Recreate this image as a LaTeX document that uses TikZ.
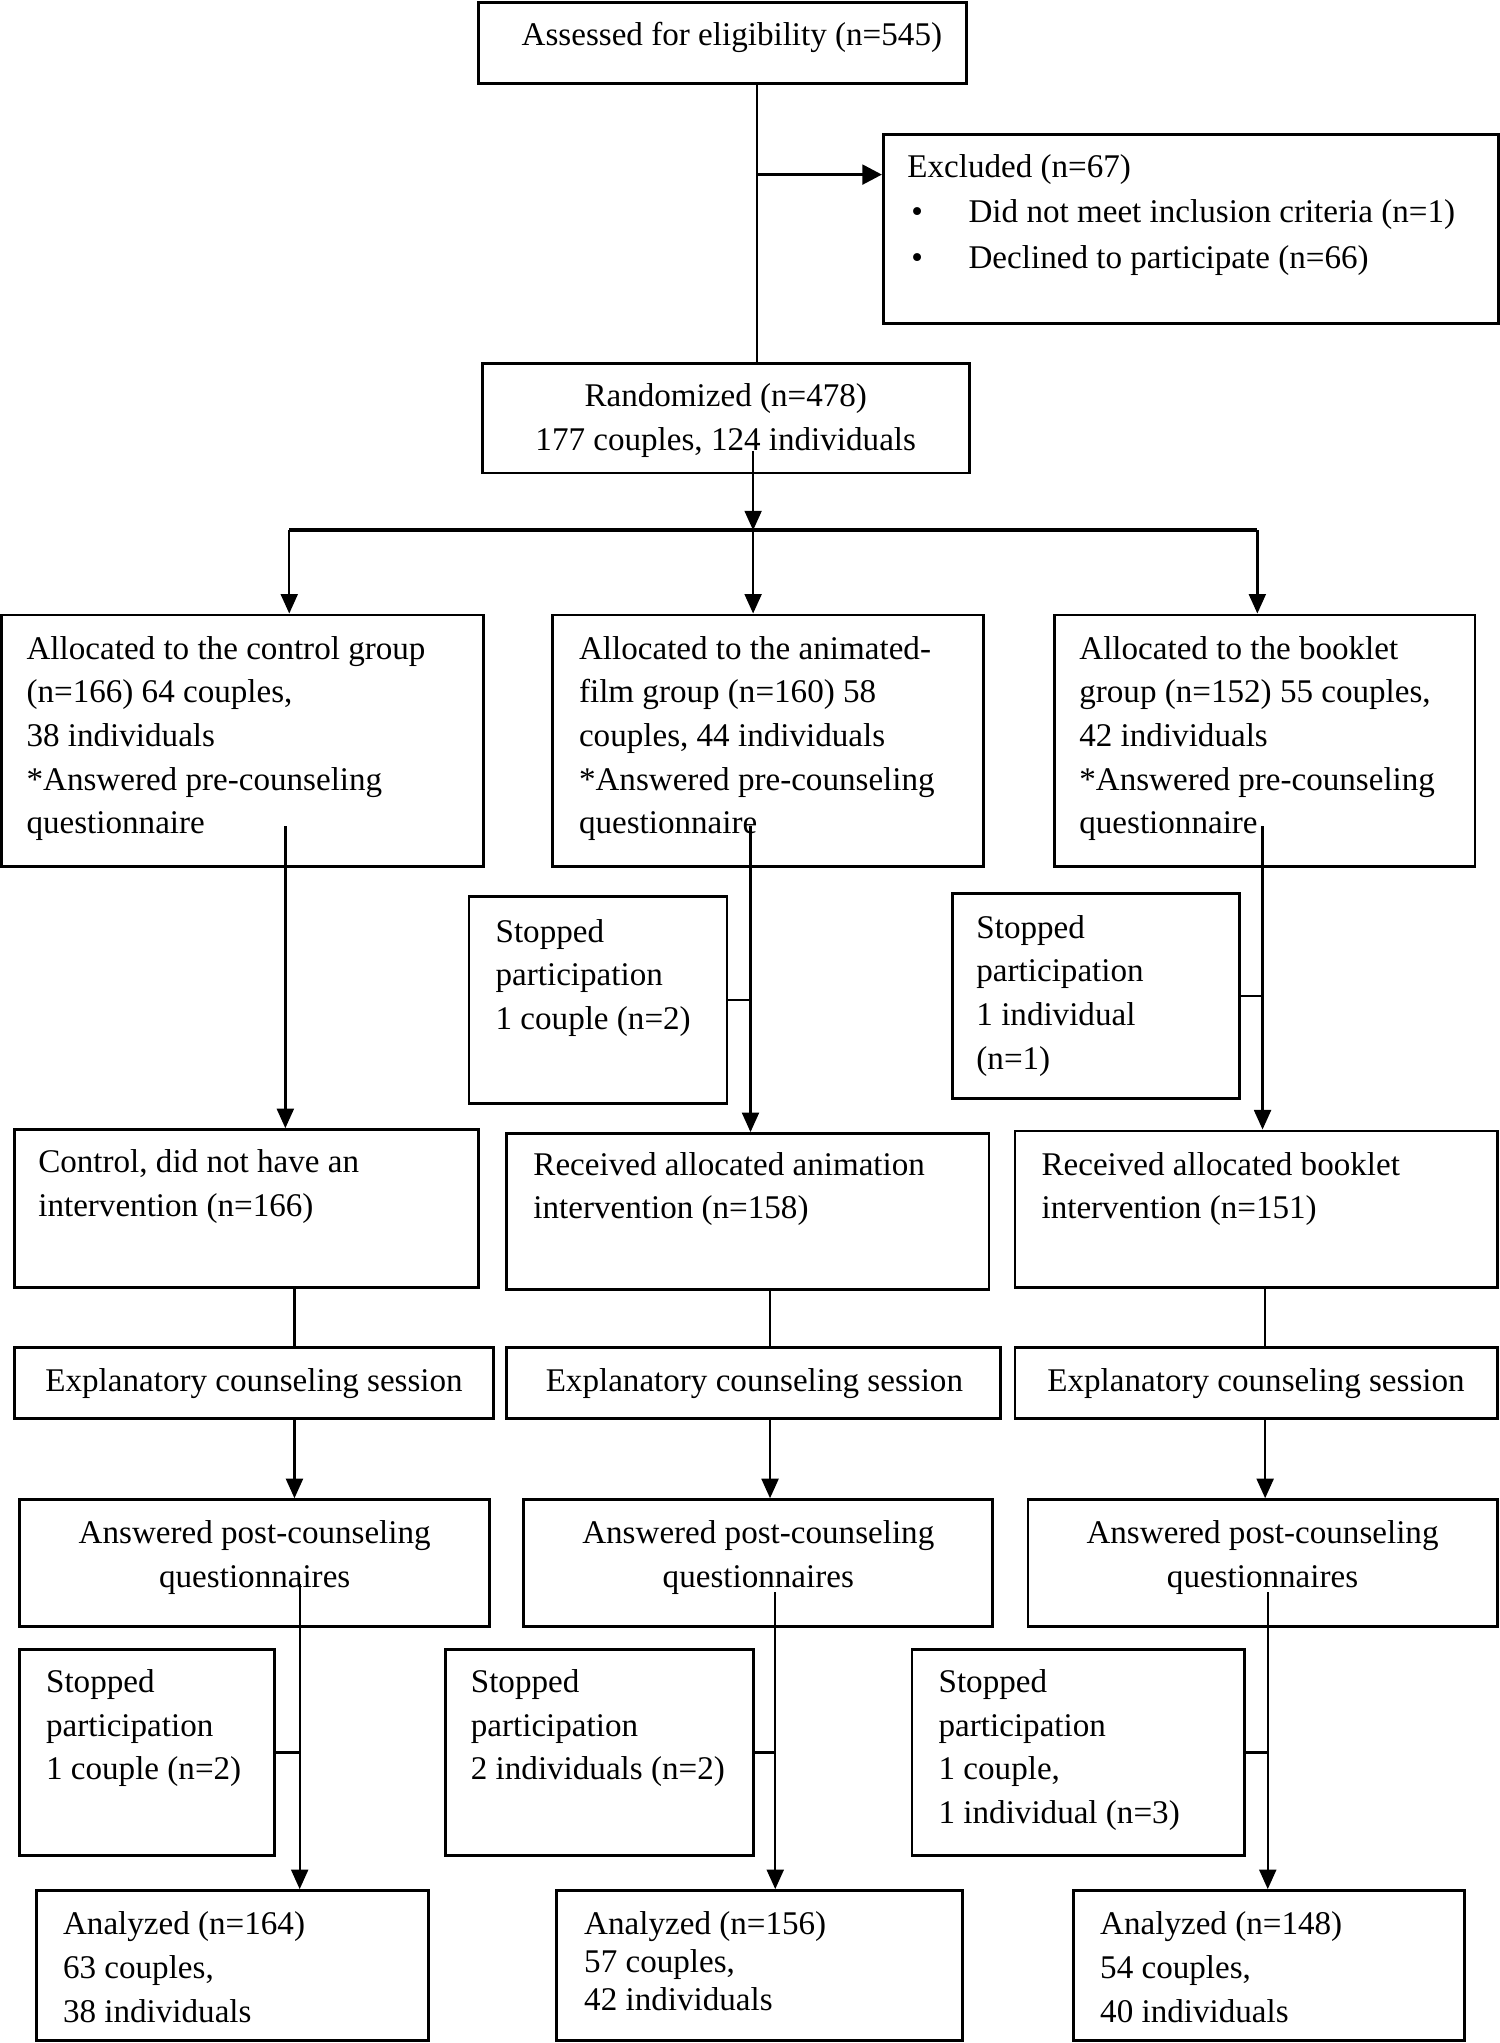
\documentclass[tikz,border=0pt]{standalone}
\usepackage{fontspec}
\setmainfont{Liberation Serif}
\usetikzlibrary{arrows.meta,fit}
\newcommand\fs{\fontsize{12.7}{16.75}\selectfont}
\newcommand\ml[1]{\begin{tabular}[t]{@{}l@{}}#1\end{tabular}}
\newcommand\mc[1]{\begin{tabular}[t]{@{}c@{}}#1\end{tabular}}
\begin{document}
\begin{tikzpicture}[x=0.5pt,y=-0.5pt,
  box/.style={draw, line width=1.1pt, inner sep=0pt},
  txt/.style={anchor=base west, inner sep=0pt, font=\fs},
  ctxt/.style={anchor=base, inner sep=0pt, font=\fs},
  link/.style={line width=0.9pt},
  arr/.style={link, -{Triangle[length=7.5pt,width=6.5pt]}},
  bigarr/.style={line width=1.3pt, -{Triangle[length=7.5pt,width=7.5pt]}},
  branch/.style={line width=1.6pt}]
\useasboundingbox (0,0) rectangle (1151,1568);
% boxes
\node[box, fit={(367,2) (742,64)}] (ass) {};
\node[box, fit={(678,103) (1150,248)}] (exc) {};
\node[box, fit={(370,279) (744,363)}] (rand) {};
\node[box, fit={(1,472) (371,665)}] (a1) {};
\node[box, fit={(424,472) (755,665)}] (a2) {};
\node[box, fit={(809,472) (1132,665)}] (a3) {};
\node[box, fit={(360,688) (558,847)}] (st2) {};
\node[box, fit={(731,686) (951,843)}] (st3) {};
\node[box, fit={(11,867) (367,988)}] (i1) {};
\node[box, fit={(389,870) (759,990)}] (i2) {};
\node[box, fit={(779,868) (1149,988)}] (i3) {};
\node[box, fit={(11,1034) (379,1089)}] (e1) {};
\node[box, fit={(389,1034) (768,1089)}] (e2) {};
\node[box, fit={(779,1034) (1149,1089)}] (e3) {};
\node[box, fit={(15,1151) (376,1248)}] (q1) {};
\node[box, fit={(402,1151) (762,1248)}] (q2) {};
\node[box, fit={(789,1151) (1149,1248)}] (q3) {};
\node[box, fit={(15,1266) (211,1424)}] (sp1) {};
\node[box, fit={(342,1266) (578,1424)}] (sp2) {};
\node[box, fit={(700,1266) (955,1424)}] (sp3) {};
\node[box, fit={(28,1451) (329,1566)}] (an1) {};
\node[box, fit={(427,1451) (739,1566)}] (an2) {};
\node[box, fit={(824,1451) (1124,1566)}] (an3) {};
% texts
\node[txt] (tass) at (400,35) {Assessed for eligibility (n=545)};
\node[txt, font=\fontsize{12.7}{17.5}\selectfont] (texc) at (696,136) {\ml{Excluded (n=67)\\
  \makebox[23.5pt][l]{\hspace{1.5pt}\textbullet}Did not meet inclusion criteria (n=1)\\
  \makebox[23.5pt][l]{\hspace{1.5pt}\textbullet}Declined to participate (n=66)}};
\node[ctxt] (trand) at (557,312) {\mc{Randomized (n=478)\\177 couples, 124 individuals}};
\node[txt] (ta1) at (20,506) {\ml{Allocated to the control group\\(n=166) 64 couples,\\38 individuals\\{*}Answered pre-counseling\\questionnaire}};
\node[txt] (ta2) at (444,506) {\ml{Allocated to the animated-\\film group (n=160) 58\\couples, 44 individuals\\{*}Answered pre-counseling\\questionnaire}};
\node[txt] (ta3) at (828,506) {\ml{Allocated to the booklet\\group (n=152) 55 couples,\\42 individuals\\{*}Answered pre-counseling\\questionnaire}};
\node[txt] (tst2) at (380,723) {\ml{Stopped\\participation\\1 couple (n=2)}};
\node[txt] (tst3) at (749,720) {\ml{Stopped\\participation\\1 individual\\(n=1)}};
\node[txt] (ti1) at (29,900) {\ml{Control, did not have an\\intervention (n=166)}};
\node[txt] (ti2) at (409,902) {\ml{Received allocated animation\\intervention (n=158)}};
\node[txt] (ti3) at (799,902) {\ml{Received allocated booklet\\intervention (n=151)}};
\node[ctxt] (te1) at (195,1068) {Explanatory counseling session};
\node[ctxt] (te2) at (579,1068) {Explanatory counseling session};
\node[ctxt] (te3) at (964,1068) {Explanatory counseling session};
\node[ctxt] (tq1) at (195.5,1185) {\mc{Answered post-counseling\\questionnaires}};
\node[ctxt] (tq2) at (582,1185) {\mc{Answered post-counseling\\questionnaires}};
\node[ctxt] (tq3) at (969,1185) {\mc{Answered post-counseling\\questionnaires}};
\node[txt] (tsp1) at (35,1299) {\ml{Stopped\\participation\\1 couple (n=2)}};
\node[txt] (tsp2) at (361,1299) {\ml{Stopped\\participation\\2 individuals (n=2)}};
\node[txt] (tsp3) at (720,1299) {\ml{Stopped\\participation\\1 couple,\\1 individual (n=3)}};
\node[txt] (tan1) at (48,1485) {\ml{Analyzed (n=164)\\63 couples,\\38 individuals}};
\node[txt, font=\fontsize{12.7}{14.5}\selectfont] (tan2) at (448,1485) {\ml{Analyzed (n=156)\\57 couples,\\42 individuals}};
\node[txt] (tan3) at (844,1485) {\ml{Analyzed (n=148)\\54 couples,\\40 individuals}};
% connector points
\coordinate (j1) at (581,134);
\coordinate (r0) at (578,346);
\coordinate (bl) at (222,407);
\coordinate (br) at (578,407);
\coordinate (brr) at (965,407);
\coordinate (s1) at (219,634);
\coordinate (s2) at (576,634);
\coordinate (s3) at (969,634);
\coordinate (m1) at (226,1010);
\coordinate (m2) at (591,1010);
\coordinate (m3) at (971,1010);
\coordinate (u1) at (230,1216);
\coordinate (u2) at (595,1222);
\coordinate (u3) at (973,1222);
% connectors
\draw[link] (ass.south -| j1) -- (rand.north -| j1);
\draw[bigarr] (j1) -- (j1 -| exc.west);
\draw[arr] (r0) -- (br);
\draw[branch] (bl) -- (brr);
\draw[arr] (bl) -- (bl |- a1.north);
\draw[arr] (br) -- (br |- a2.north);
\draw[arr] (brr) -- (brr |- a3.north);
\draw[arr] (s1) -- (s1 |- i1.north);
\draw[arr] (s2) -- (s2 |- i2.north);
\draw[arr] (s3) -- (s3 |- i3.north);
\draw[link] (st2.east) -- (st2.east -| s2);
\draw[link] (st3.east) -- (st3.east -| s3);
\draw[link] (m1 |- i1.south) -- (m1 |- e1.north);
\draw[link] (m2 |- i2.south) -- (m2 |- e2.north);
\draw[link] (m3 |- i3.south) -- (m3 |- e3.north);
\draw[arr] (m1 |- e1.south) -- (m1 |- q1.north);
\draw[arr] (m2 |- e2.south) -- (m2 |- q2.north);
\draw[arr] (m3 |- e3.south) -- (m3 |- q3.north);
\draw[arr] (u1) -- (u1 |- an1.north);
\draw[arr] (u2) -- (u2 |- an2.north);
\draw[arr] (u3) -- (u3 |- an3.north);
\draw[link] (sp1.east) -- (sp1.east -| u1);
\draw[link] (sp2.east) -- (sp2.east -| u2);
\draw[link] (sp3.east) -- (sp3.east -| u3);
\end{tikzpicture}
\end{document}
